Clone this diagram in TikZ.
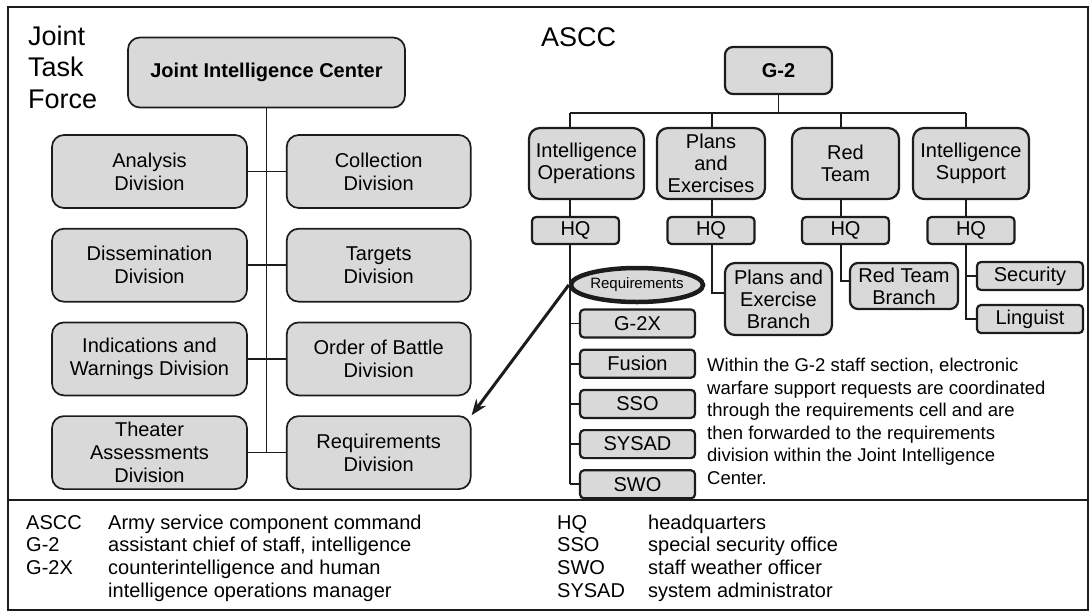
\documentclass[tikz,border=0pt]{standalone}
\usepackage{fontspec}
\setmainfont{Liberation Sans}
\usepackage{xcolor}
\usepackage{tikz}
\usetikzlibrary{positioning,arrows.meta,shapes.geometric}
\definecolor{boxgray}{RGB}{217,217,217}
\definecolor{ink}{RGB}{28,28,28}
\tikzset{div node/.style={draw=ink,fill=boxgray,rounded corners=12pt,line width=1.7pt,minimum width=195pt,minimum height=73pt,align=center,inner sep=1pt,font=\fontsize{20}{23}\selectfont},}
\tikzset{unit node/.style={draw=ink,fill=boxgray,rounded corners=11pt,line width=2.2pt,minimum height=71pt,align=center,inner sep=1pt,font=\fontsize{20}{22}\selectfont},}
\tikzset{cell node/.style={draw=ink,fill=boxgray,rounded corners=4pt,line width=2.2pt,minimum width=115pt,minimum height=28pt,inner sep=1pt,font=\fontsize{20}{22}\selectfont},}
\tikzset{link/.style={draw=ink,line width=1.9pt},}

\begin{document}
\begin{tikzpicture}[x=1pt,y=-1pt]
       \useasboundingbox (0,0) rectangle (1091,613);
       \draw[ink,line width=2.5pt] (8,7) rectangle (1088,610);
       \draw[ink,line width=2pt] (8,500) -- (1088,500);

       % Joint Task Force side
       \node[anchor=north west,align=left,inner sep=0pt,font=\fontsize{27}{31.5}\selectfont] (jtf) at (28,25.5) {Joint\\Task\\Force};
       \node[div node,minimum width=277pt,minimum height=70pt,font=\bfseries\fontsize{20}{23}\selectfont] (jic) at (266.5,72.5) {Joint Intelligence Center};
       \node[div node] (ana) at (149.5,171.5) {Analysis\\Division};
       \node[div node,minimum width=184pt] (col) [right = 38pt of ana]{Collection\\Division};
       \node[div node] (dis) [below = 19pt of ana]{Dissemination\\Division};
       \node[div node,minimum width=184pt] (tgt) [below = 19pt of col]{Targets\\Division};
       \node[div node] (iw) [below = 19pt of dis]{Indications and\\Warnings Division};
       \node[div node,minimum width=184pt] (ob) [below = 19pt of tgt]{Order of Battle\\Division};
       \node[div node] (ta) [below = 19pt of iw]{Theater\\Assessments\\Division};
       \node[div node,minimum width=184pt] (rdv) [below = 19pt of ob]{Requirements\\Division};

       \draw[link,line width=1.5pt] (jic.south) -- (jic.south |- ta.east);
       \foreach \l/\r in {ana/col,dis/tgt,iw/ob,ta/rdv}
          \draw[link,line width=1.5pt] (\l.east) -- (\r.west);

       % ASCC side
       \node[anchor=west,inner sep=0pt,font=\fontsize{27}{31}\selectfont] (ascc) at (541,37) {ASCC};
       \node[cell node,rounded corners=8pt,minimum width=107pt,minimum height=47pt,font=\bfseries\fontsize{20}{22}\selectfont] (g2) at (778.5,70.5) {G-2};
       \node[unit node,minimum width=115pt] (io) at (586.5,163.5) {Intelligence\\Operations};
       \node[unit node,minimum width=108pt] (pe) at (711,163.5) {Plans\\and\\Exercises};
       \node[unit node,minimum width=107pt] (rt) at (845.5,163.5) {Red\\Team};
       \node[unit node,minimum width=116pt] (is) at (971,163.5) {Intelligence\\Support};
       \node[cell node,minimum width=87pt,minimum height=27pt] (hq1) at (575.5,230.5) {HQ};
       \node[cell node,minimum width=87pt,minimum height=27pt] (hq2) at (711,230.5) {HQ};
       \node[cell node,minimum width=87pt,minimum height=27pt] (hq3) at (845.5,230.5) {HQ};
       \node[cell node,minimum width=87pt,minimum height=27pt] (hq4) at (971,230.5) {HQ};

       \coordinate (c1) at (570,113);
       \coordinate (c2) at (712,113);
       \coordinate (c3) at (841,113);
       \coordinate (c4) at (966,113);
       \draw[link] (g2.south) -- (g2.south |- c1);
       \draw[link] (c1) -- (c4);
       \foreach \c/\u/\h in {c1/io/hq1,c2/pe/hq2,c3/rt/hq3,c4/is/hq4}{
          \draw[link] (\c) -- (\c |- \u.north);
          \draw[link] (\c |- \u.south) -- (\c |- \h.north);
       }

       % intelligence operations cells
       \node[ellipse,draw=ink,line width=4.5pt,fill=boxgray,minimum width=131pt,minimum height=34pt,inner sep=0pt,font=\fontsize{15}{17}\selectfont] (req) at (637,285) {Requirements};
       \node[cell node] (g2x) at (637.5,323.5) {G-2X};
       \node[cell node] (fus) [below = 10pt of g2x]{Fusion};
       \node[cell node] (sso) [below = 10pt of fus]{SSO};
       \node[cell node] (sys) [below = 10pt of sso]{SYSAD};
       \node[cell node] (swo) [below = 10pt of sys]{SWO};
       \draw[link] (c1 |- hq1.south) -- (c1 |- swo.west);
       \foreach \s in {g2x,fus,sso,sys,swo}
          \draw[link] (c1 |- \s.west) -- (\s.west);

       % branches
       \node[unit node,minimum width=107pt,minimum height=72pt,rounded corners=10pt] (peb) at (778.5,299) {Plans and\\Exercise\\Branch};
       \node[unit node,minimum width=108pt,minimum height=46pt,rounded corners=8pt] (rtb) at (904,286) {Red Team\\Branch};
       \node[cell node,minimum width=106pt] (sec) at (1030,276) {Security};
       \node[cell node,minimum width=106pt] (lin) at (1030,319) {Linguist};
       \draw[link] (c2 |- hq2.south) |- ([yshift=6pt]peb.west);
       \draw[link] (c3 |- hq3.south) |- ([yshift=5pt]rtb.west);
       \draw[link] (c4 |- hq4.south) |- (lin.west);
       \draw[link] (c4 |- sec.west) -- (sec.west);

       \node[anchor=north west,align=left,inner sep=0pt,font=\fontsize{18.5}{22.5}\selectfont] (note) at (707,358) {Within the G-2 staff section, electronic\\warfare support requests are coordinated\\through the requirements cell and are\\then forwarded to the requirements\\division within the Joint Intelligence\\Center.};

       \draw[ink,line width=3pt,-{Stealth[length=16pt,width=12pt]}] (req.west) -- (rdv.north east);

       % legend
       \node[anchor=north west,inner sep=0pt,font=\fontsize{20}{22.7}\selectfont] (leg1) at (26,513) {\begin{tabular}{@{}p{82pt}@{}l@{}}
          ASCC & Army service component command\\
          G-2 & assistant chief of staff, intelligence\\
          G-2X & counterintelligence and human\\
               & intelligence operations manager
       \end{tabular}};
       \node[anchor=north west,inner sep=0pt,font=\fontsize{20}{22.7}\selectfont] (leg2) at (557,513) {\begin{tabular}{@{}p{91pt}@{}l@{}}
          HQ & headquarters\\
          SSO & special security office\\
          SWO & staff weather officer\\
          SYSAD & system administrator
       \end{tabular}};
\end{tikzpicture}
\end{document}
